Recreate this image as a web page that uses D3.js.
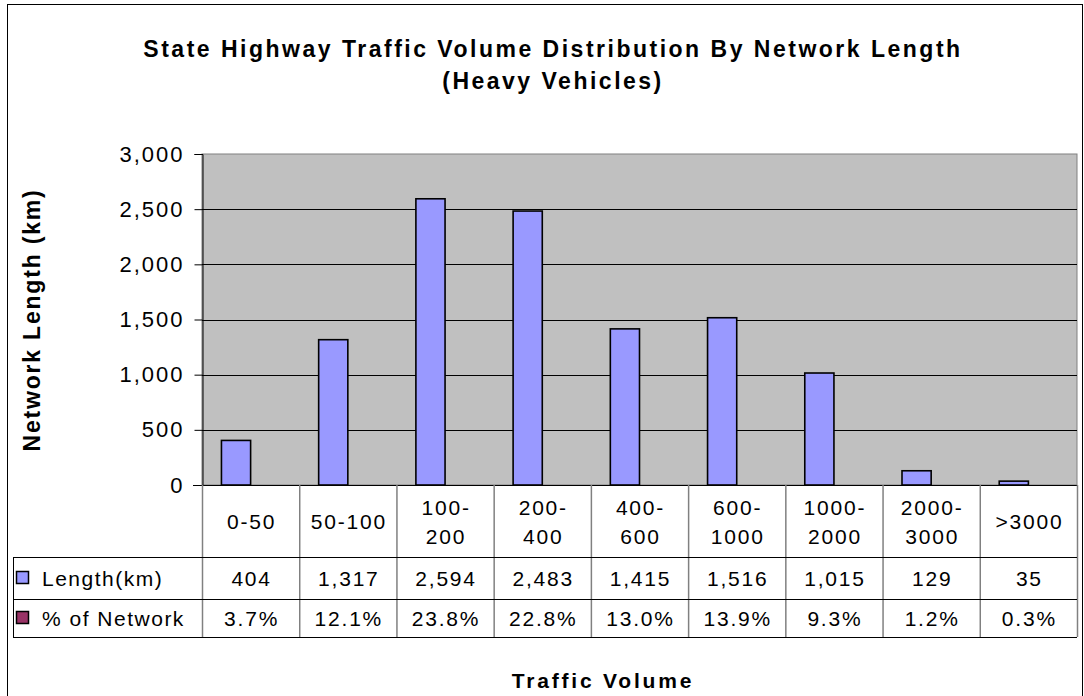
<!DOCTYPE html>
<html>
<head>
<meta charset="utf-8">
<script src="https://cdn.jsdelivr.net/npm/d3@7"></script>
<style>
  body { margin: 0; background: #fff; }
  text { fill: #000; }
</style>
</head>
<body>
<script>
var categories = ["0-50", "50-100", "100-200", "200-400", "400-600", "600-1000", "1000-2000", "2000-3000", ">3000"];
var categoryLines = [["0-50"], ["50-100"], ["100-", "200"], ["200-", "400"], ["400-", "600"], ["600-", "1000"], ["1000-", "2000"], ["2000-", "3000"], [">3000"]];
var lengthKm = [404, 1317, 2594, 2483, 1415, 1516, 1015, 129, 35];
var pctNetwork = [3.7, 12.1, 23.8, 22.8, 13.0, 13.9, 9.3, 1.2, 0.3];
var yTicks = [0, 500, 1000, 1500, 2000, 2500, 3000];
var seriesNames = ["Length(km)", "% of Network"];
var seriesColors = ["#9999FF", "#993366"];

var svg = d3.select("body").append("svg").attr("width", 1084).attr("height", 696);
var font = "Liberation Sans, Arial, sans-serif";

// chart frame
svg.append("rect")
  .attr("x", 7.5).attr("y", 4.5).attr("width", 1075).attr("height", 720)
  .attr("fill", "#fff").attr("stroke", "#000").attr("stroke-width", 1);

var plot = {left: 202, top: 154, right: 1077, bottom: 485};
var rows = {cat: 557, len: 599, pct: 637};
var tableLeft = 13;

var x = d3.scaleBand().domain(categories)
  .range([plot.left, plot.right]).paddingInner(0.4).paddingOuter(0.2);
var x1 = d3.scaleBand().domain(seriesNames).range([0, x.bandwidth()]);
var y = d3.scaleLinear().domain([0, 3000]).range([plot.bottom, plot.top]);

// plot background
svg.append("rect")
  .attr("x", plot.left).attr("y", plot.top)
  .attr("width", plot.right - plot.left).attr("height", plot.bottom - plot.top)
  .attr("fill", "#C0C0C0").attr("stroke", "#808080").attr("stroke-width", 1);

// gridlines
svg.append("g").selectAll("line")
  .data(yTicks.filter(function(d) { return d > 0 && d < 3000; }))
  .enter().append("line")
    .attr("x1", plot.left).attr("x2", plot.right)
    .attr("y1", function(d) { return Math.round(y(d)) + 0.5; })
    .attr("y2", function(d) { return Math.round(y(d)) + 0.5; })
    .attr("stroke", "#000").attr("stroke-width", 1);

// y axis
var yAxis = svg.append("g")
  .attr("transform", "translate(" + (plot.left + 0.5) + ",0)")
  .call(d3.axisLeft(y).tickValues(yTicks).tickSize(8).tickPadding(10)
    .tickFormat(d3.format(",")));
yAxis.selectAll("path, line").attr("stroke", "#000");
yAxis.selectAll("text")
  .attr("font-family", font).attr("letter-spacing", 2)
  .attr("font-size", 22).attr("fill", "#000");

// bars (the % series is on the same axis, so it is practically flat)
var series = [lengthKm, pctNetwork.map(function(v) { return v / 100; })];
seriesNames.forEach(function(name, si) {
  svg.append("g").selectAll("rect")
    .data(series[si])
    .enter().append("rect")
      .attr("x", function(d, i) { return x(categories[i]) + x1(name); })
      .attr("y", function(d) { return y(d); })
      .attr("width", x1.bandwidth())
      .attr("height", function(d) { return y(0) - y(d); })
      .attr("fill", seriesColors[si])
      .attr("stroke", si === 0 ? "#000" : "none").attr("stroke-width", 1.6);
});

// x axis baseline
svg.append("line")
  .attr("x1", plot.left - 9).attr("x2", plot.right)
  .attr("y1", plot.bottom + 0.5).attr("y2", plot.bottom + 0.5)
  .attr("stroke", "#000");

// data table
var step = x.step();
var table = svg.append("g");

table.selectAll(".vline")
  .data(d3.range(categories.length + 1))
  .enter().append("line")
    .attr("x1", function(i) { return plot.left + i * step + 0.5; })
    .attr("x2", function(i) { return plot.left + i * step + 0.5; })
    .attr("y1", plot.bottom).attr("y2", rows.pct)
    .attr("stroke", "#808080").attr("stroke-width", 1.5);

table.append("line")
  .attr("x1", tableLeft + 0.5).attr("x2", tableLeft + 0.5)
  .attr("y1", rows.cat).attr("y2", rows.pct)
  .attr("stroke", "#000");

[rows.cat, rows.len, rows.pct].forEach(function(yy) {
  table.append("line")
    .attr("x1", tableLeft).attr("x2", plot.right)
    .attr("y1", yy + 0.5).attr("y2", yy + 0.5)
    .attr("stroke", "#000");
});

// category labels
categoryLines.forEach(function(lines, i) {
  var cx = plot.left + (i + 0.5) * step;
  var cy = (plot.bottom + rows.cat) / 2;
  var t = table.append("text")
    .attr("x", cx).attr("text-anchor", "middle")
    .attr("font-family", font).attr("font-size", 21)
    .attr("letter-spacing", 1.8);
  lines.forEach(function(l, k) {
    t.append("tspan").attr("x", cx + 1)
      .attr("y", cy + 8 + (k - (lines.length - 1) / 2) * 29)
      .text(l);
  });
});

// value rows
var rowValues = [lengthKm.map(d3.format(",")), pctNetwork.map(function(v) { return v.toFixed(1) + "%"; })];
var rowMids = [(rows.cat + rows.len) / 2, (rows.len + rows.pct) / 2];
rowValues.forEach(function(vals, r) {
  table.append("g").selectAll("text")
    .data(vals)
    .enter().append("text")
      .attr("x", function(d, i) { return plot.left + (i + 0.5) * step + 1; })
      .attr("y", rowMids[r] + 8)
      .attr("text-anchor", "middle")
      .attr("font-family", font).attr("font-size", 21)
      .attr("letter-spacing", 1.8)
      .text(function(d) { return d; });

  table.append("rect")
    .attr("x", 16.5).attr("y", rowMids[r] - 6.5)
    .attr("width", 12).attr("height", 12)
    .attr("fill", seriesColors[r]).attr("stroke", "#000").attr("stroke-width", 1.5);
  table.append("text")
    .attr("x", 42).attr("y", rowMids[r] + 8)
    .attr("font-family", font).attr("font-size", 21)
    .attr("letter-spacing", 1.5)
    .text(seriesNames[r]);
});

// titles
var title = svg.append("text")
  .attr("text-anchor", "middle")
  .attr("font-family", font)
  .attr("font-weight", "bold").attr("font-size", 23)
  .attr("letter-spacing", 2.5);
title.append("tspan").attr("x", 553).attr("y", 57)
  .text("State Highway Traffic Volume  Distribution By Network Length");
title.append("tspan").attr("x", 553).attr("y", 89)
  .text("(Heavy Vehicles)");

svg.append("text")
  .attr("transform", "translate(40,320) rotate(-90)")
  .attr("text-anchor", "middle")
  .attr("font-family", font).attr("font-weight", "bold").attr("font-size", 23)
  .attr("letter-spacing", 1.8)
  .text("Network Length (km)");

svg.append("text")
  .attr("x", 603).attr("y", 688)
  .attr("text-anchor", "middle")
  .attr("font-family", font).attr("font-weight", "bold").attr("font-size", 21)
  .attr("letter-spacing", 2.8)
  .text("Traffic Volume");
</script>
</body>
</html>
